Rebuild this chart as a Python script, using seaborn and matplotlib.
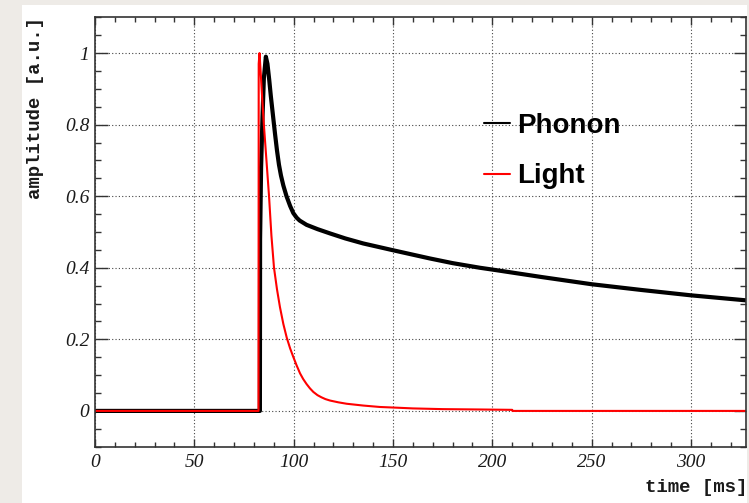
import pandas as pd
import seaborn as sns
import matplotlib.pyplot as plt
from matplotlib.patches import Rectangle
from matplotlib.ticker import MultipleLocator

# values
phonon_t = [0, 83.0, 83.1, 83.6, 84.3, 85.0, 86.0, 86.8, 87.7, 88.5, 89.4, 90.6,
            91.6, 92.6, 93.6, 94.8, 96.4, 98.2, 99.8, 101.5, 103.0, 106.5, 112, 118.3,
            126, 135, 150, 168.6, 180, 193.8, 200, 225, 250, 275, 300, 327.68]
phonon_amp = [0, 0, 0.48, 0.68, 0.82, 0.93, 0.99, 0.97, 0.925, 0.88, 0.835, 0.775,
              0.728, 0.688, 0.658, 0.630, 0.60, 0.573, 0.553, 0.540, 0.532, 0.52, 0.508,
              0.496, 0.482, 0.468, 0.449, 0.426, 0.413, 0.40, 0.395, 0.374, 0.354,
              0.338, 0.323, 0.309]

light_t = [0, 82.3, 82.4, 82.8, 83.4, 84.2, 85.0, 86.3, 87.6, 88.8, 90.1, 91.6,
           93.1, 94.8, 96.5, 98.2, 99.8, 101.5, 103.2, 104.8, 106.5, 108.2, 109.9,
           112, 114, 116, 118.3, 122.5, 126.7, 135, 143.4, 152, 160, 175, 193.8,
           210, 210.1, 327.68]
light_amp = [0, 0, 0.97, 1.0, 0.945, 0.87, 0.80, 0.70, 0.60, 0.49, 0.40, 0.34,
             0.29, 0.243, 0.205, 0.175, 0.151, 0.127, 0.105, 0.089, 0.075, 0.063, 0.053,
             0.044, 0.038, 0.033, 0.029, 0.024, 0.020, 0.015, 0.011, 0.009, 0.007,
             0.005, 0.004, 0.003, 0, 0]

x_ticks = [0, 50, 100, 150, 200, 250, 300]
x_tick_labels = ['0', '50', '100', '150', '200', '250', '300']
y_ticks = [0, 0.2, 0.4, 0.6, 0.8, 1]
y_tick_labels = ['0', '0.2', '0.4', '0.6', '0.8', '1']

sns.set_style('ticks')

fig = plt.figure(figsize=(7.49, 5.03), dpi=100)
fig.patch.set_facecolor('#eeebe7')
fig.patches.append(Rectangle((22 / 749, 0), 725 / 749, 498 / 503, transform=fig.transFigure,
                             facecolor='white', edgecolor='none', zorder=-1))
ax = fig.add_axes([95 / 749, 56.3 / 503, 651 / 749, 429.4 / 503])
ax.set_facecolor('white')

phonon = pd.DataFrame({'time': phonon_t, 'amplitude': phonon_amp})
light = pd.DataFrame({'time': light_t, 'amplitude': light_amp})
sns.lineplot(data=phonon, x='time', y='amplitude', color='black', lw=3,
             estimator=None, sort=False, ax=ax, label='Phonon')
sns.lineplot(data=light, x='time', y='amplitude', color='#ff0000', lw=1.5,
             estimator=None, sort=False, ax=ax, label='Light')

ax.set_xlim(0, 327.68)
ax.set_ylim(-0.1, 1.1)

tick_font = dict(fontfamily='Liberation Serif', fontstyle='italic', fontsize=14, color='#1a1a1a')
ax.set_xticks(x_ticks, labels=x_tick_labels, **tick_font)
ax.set_yticks(y_ticks, labels=y_tick_labels, **tick_font)
ax.xaxis.set_minor_locator(MultipleLocator(10))
ax.yaxis.set_minor_locator(MultipleLocator(0.05))
ax.tick_params(which='both', direction='in', top=True, right=True, color='#333333', width=1)
ax.tick_params(axis='x', which='major', length=6, pad=5)
ax.tick_params(axis='x', which='minor', length=3.5)
ax.tick_params(axis='y', which='major', length=9, pad=4)
ax.tick_params(axis='y', which='minor', length=4.5)
for s in ax.spines.values():
    s.set_color('#333333')
    s.set_linewidth(1.2)

ax.grid(True, which='major', color='#444444', linestyle=(0, (1, 2)), linewidth=0.8)
ax.set_axisbelow(True)

label_font = dict(fontfamily='Liberation Mono', fontweight='bold', fontsize=13.7, color='#1a1a1a')
ax.set_ylabel('amplitude [a.u.]', loc='top', **label_font)
ax.yaxis.set_label_coords(-0.078, 1)
ax.set_xlabel('time [ms]', loc='right', **label_font)
ax.xaxis.set_label_coords(1.002, -0.075)

leg = ax.legend(loc='upper left', bbox_to_anchor=(0.5975, 0.777), frameon=False,
                prop=dict(family='Liberation Sans', weight='bold', size=20),
                labelcolor='black',
                handlelength=0.94, handletextpad=0.25, labelspacing=0.87,
                borderpad=0, borderaxespad=0)
for line in leg.get_lines():
    line.set_linewidth(1.5)

fig.savefig('out.png', dpi=100, facecolor=fig.get_facecolor())
